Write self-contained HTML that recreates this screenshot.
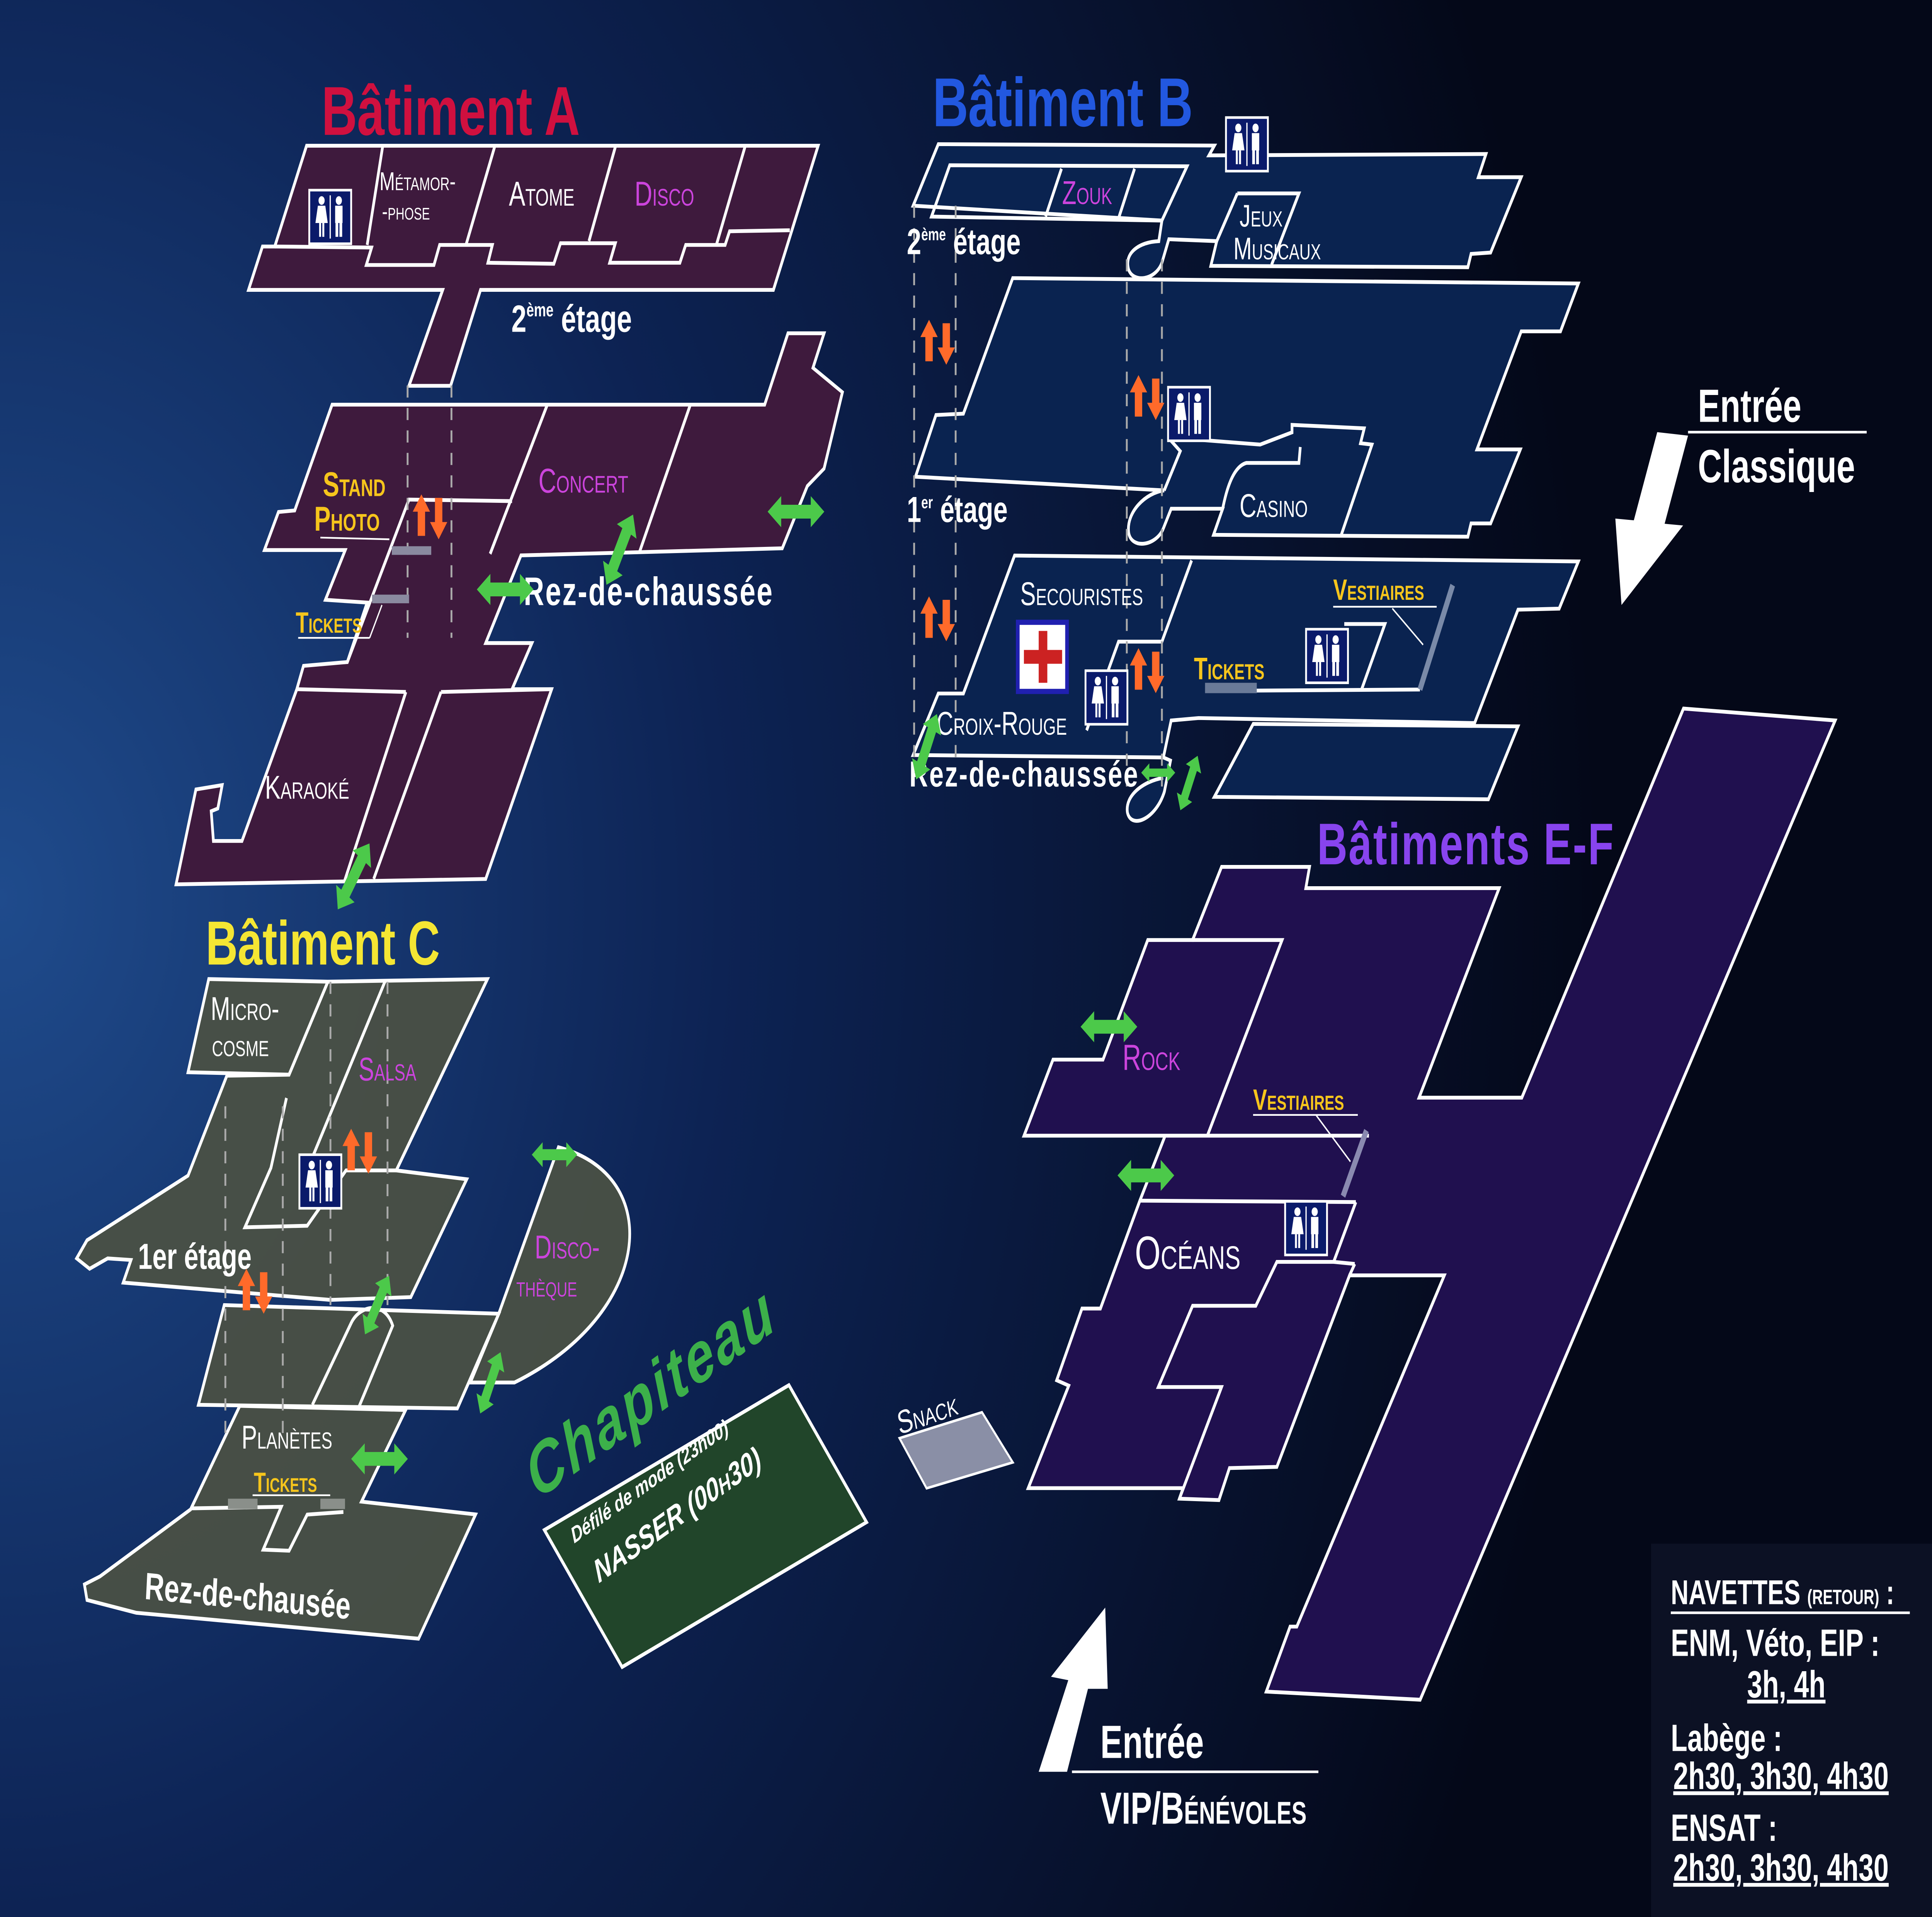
<!DOCTYPE html>
<html><head><meta charset="utf-8"><style>
html,body{margin:0;padding:0;background:#050a1f;width:100%;height:100%;overflow:hidden;}
svg.main{display:block;position:fixed;left:0;top:0;width:100vw;height:100vh;}
text{font-family:"Liberation Sans","DejaVu Sans",sans-serif;}
.w{fill:#fff}
.sc{font-variant:small-caps}
</style></head><body>
<svg class="main" viewBox="0 0 1568 1109" preserveAspectRatio="none" xmlns="http://www.w3.org/2000/svg">
<defs>
<radialGradient id="bg" cx="0" cy="520" r="1300" gradientUnits="userSpaceOnUse">
<stop offset="0" stop-color="#1f4b8c"/><stop offset="0.45" stop-color="#0d2354"/><stop offset="1" stop-color="#040818"/>
</radialGradient>
<g id="gar"><polygon points="-23,0 -12,-9 -12,-4 12,-4 12,-9 23,0 12,9 12,4 -12,4 -12,9" fill="#4cc94a"/></g>
<g id="oar"><polygon points="-11,-13 -4,-3 -8,-3 -8,11 -14,11 -14,-3 -18,-3" fill="#ff6a2a" transform="translate(5,0)"/><polygon points="6,13 -1,3 3,3 3,-11 9,-11 9,3 13,3" fill="#ff6a2a" transform="translate(2,0)"/></g>
<g id="wc"><rect x="0" y="0" width="34" height="31" fill="#0a1a6a" stroke="#fff" stroke-width="1.5"/>
<circle cx="10" cy="6" r="2.5" fill="#fff"/><polygon points="7,9 13,9 15,19 5,19" fill="#fff"/><rect x="8" y="19" width="1.6" height="8" fill="#fff"/><rect x="10.6" y="19" width="1.6" height="8" fill="#fff"/>
<line x1="17" y1="3" x2="17" y2="28" stroke="#fff" stroke-width="1"/>
<circle cx="24" cy="6" r="2.5" fill="#fff"/><rect x="21" y="9" width="6" height="10" fill="#fff"/><rect x="21.3" y="18" width="2.2" height="9" fill="#fff"/><rect x="24.5" y="18" width="2.2" height="9" fill="#fff"/></g>
</defs>
<rect width="1568" height="1109" fill="url(#bg)"/>

<!-- ===== Bâtiment A ===== -->
<g stroke="#fff" stroke-width="2.2" stroke-linejoin="miter" fill="#3e1a3d">
<polygon points="248.8,84.3 664,84.3 627.7,167.7 390,167.7 365.7,223.2 331.9,223.2 359.3,167.7 201.7,167.7 213,142.6 223,142.6"/>
<polygon points="269.5,234.1 620.6,234.1 639.5,192.8 668.8,192.8 659.8,212.8 683.7,226.9 668.8,271.1 655.2,281.2 634.9,317.2 422.8,321.3 394.2,372 431.7,372 415.6,398.7 447.7,398.7 394.2,508.5 142.9,511.6 159,456.7 180.3,454.2 176.8,467.7 171.4,469.3 173.2,486.5 196.4,486.5 240.9,398.7 246.3,385.2 281.9,383 298,348.6 264.1,347 280.2,318.2 214.6,318.2 226,296.2 239.2,295.3"/>
</g>
<g stroke="#fff" stroke-width="2.2" fill="none">
<polyline points="223,142.6 301.6,143.2 297.3,153.3 352.2,153.3 356.8,141.7 399.6,141.7 396,152 449.5,152.6 454.9,140.7 499.4,140.7 494.8,152 551.8,152 556.5,141.7 588.5,141.7 592.1,133.8 641,133.2"/>
<line x1="310.5" y1="85" x2="298" y2="141.7"/><line x1="401.4" y1="85" x2="378.2" y2="141.7"/><line x1="499.4" y1="85" x2="478" y2="139.5"/><line x1="604.6" y1="85" x2="581.4" y2="141.7"/>
<line x1="444.2" y1="234.1" x2="397.8" y2="320.4"/><line x1="560" y1="234.7" x2="519" y2="319.4"/>
<polyline points="281.9,383 331.9,289 415.6,289.9"/>
<line x1="240.9" y1="398.7" x2="329.4" y2="400.3"/><line x1="329.4" y1="400.3" x2="279.5" y2="510"/>
<line x1="357.9" y1="400.3" x2="303.3" y2="508.5"/><line x1="357.9" y1="400.3" x2="447.7" y2="398.7"/>
</g>
<g stroke="#aaa" stroke-width="1.5" stroke-dasharray="7,6"><line x1="330.8" y1="223" x2="330.8" y2="369"/><line x1="366.4" y1="223" x2="366.4" y2="369"/></g>
<rect x="318" y="316" width="32" height="5" fill="#8a8aa0"/><rect x="302" y="344" width="30" height="5" fill="#8a8aa0"/>
<line x1="260" y1="311" x2="316" y2="312" stroke="#fff" stroke-width="1"/><line x1="242" y1="369" x2="300" y2="369" stroke="#fff" stroke-width="1"/><line x1="300" y1="369" x2="310" y2="350" stroke="#fff" stroke-width="1"/>
<text x="261" y="78" font-size="40" font-weight="bold" fill="#d0103f">Bâtiment A</text>
<text x="308" y="110" font-size="15" class="w sc">Métamor-</text><text x="310" y="127" font-size="14" class="w sc">-phose</text>
<text x="413" y="119" font-size="20" class="w sc">Atome</text>
<text x="515" y="119" font-size="20" fill="#cc44dd" class="sc">Disco</text>
<text x="415" y="192" font-size="22" font-weight="bold" class="w">2<tspan font-size="11" dy="-9">ème</tspan><tspan dy="9"> étage</tspan></text>
<text x="262" y="287" font-size="20" font-weight="bold" fill="#f6c51c" class="sc">Stand</text>
<text x="255" y="307" font-size="20" font-weight="bold" fill="#f6c51c" class="sc">Photo</text>
<text x="437" y="285" font-size="20" fill="#cc44dd" class="sc">Concert</text>
<text x="425" y="350" font-size="23" font-weight="bold" class="w" letter-spacing="1">Rez-de-chaussée</text>
<text x="240" y="366" font-size="17" font-weight="bold" fill="#f6c51c" class="sc">Tickets</text>
<text x="215" y="462" font-size="19" class="w sc">Karaoké</text>
<use href="#wc" x="251" y="110"/>
<use href="#oar" x="348" y="299"/>
<use href="#gar" transform="translate(646,296)"/>
<use href="#gar" transform="translate(410,341)"/>
<use href="#gar" transform="translate(503,318) rotate(-62)"/>
<use href="#gar" transform="translate(287,507) rotate(-56)"/>

<!-- ===== Bâtiment B ===== -->
<g stroke="#fff" stroke-width="2.2" fill="#0a2350">
<path d="M761.5,83.4 L985.6,84.2 L981.2,89.9 L1206,89.1 L1199.8,102.5 L1234.6,102.5 L1209.8,146.1 L1193.9,146.9 L1191.3,154.6 L982.7,153.8 L987.5,139.5 L948.6,138.4 L943,152 C938,162 920,164 916,156 C912,146 925,140 940.5,139.5 L943,127.6 L741.1,119 Z"/>
<path d="M821.9,160.9 L1281,164 L1266.5,191.7 L1234.6,191.7 L1198.7,260 L1233.9,260 L1209.8,302.8 L1193.9,302.8 L1191.3,310.5 L984.9,309.4 L992.3,294.3 L950.5,294.3 L944,306 C938,316 918,318 916,308 C914,296 930,285 944.9,283.7 L743,275.8 L759.6,240.1 L781.9,239.3 Z"/>
<path d="M823.4,321.4 L1281,324.8 L1265.4,352.1 L1232,352.7 L1196.8,418.3 L972.7,415.4 L950.5,416.8 L944.2,438.2 L741.1,436.8 L761.5,401.2 L781.9,401.2 Z"/>
<polygon points="1017.1,418.8 1232,420.2 1208,462.4 985.6,461"/>
<path d="M944.2,438.2 L950,440 L945,458 C938,474 918,480 915,470 C913,460 928,452 944,450"/>
</g>
<g stroke="#fff" stroke-width="2.2" fill="none">
<polygon points="770.8,95.6 963.4,96.2 943,127.6 756,125.3"/>
<line x1="861.5" y1="97.6" x2="848.6" y2="125.3"/><line x1="920.8" y1="97.6" x2="907.9" y2="126.1"/>
<polyline points="1004.2,111.9 1054.2,111.9 1032,153.2"/><line x1="1004.2" y1="111.9" x2="987.5" y2="139.5"/>
<path d="M947.9,253 L1022.7,257.2 L1048.6,250.1 L1048.6,245.8 L1107.2,247.8 L1104.2,256.4 L1113.5,257.2 L1088.6,309.4"/>
<path d="M1055.3,258.6 L1054.2,267.8 L1011.6,267.8 C1000,270 995,285 992.3,294.3"/>
<polyline points="947.9,253 957.9,261 944.9,283.7"/>
<polyline points="967.1,324.2 943,371.2 907.8,371.2 881.9,422.5"/>
<line x1="978.2" y1="399.7" x2="1152.4" y2="398.9"/>
<polyline points="1091,361 1124,361 1105,399"/>
</g>
<line x1="1152.4" y1="398.9" x2="1179" y2="338.5" stroke="#7a8aa8" stroke-width="4"/>
<line x1="1130" y1="352" x2="1155" y2="373" stroke="#fff" stroke-width="1"/>
<line x1="1082" y1="351" x2="1166" y2="351" stroke="#fff" stroke-width="1"/>
<rect x="978" y="395" width="42" height="6" fill="#6a7a98"/>
<g stroke="#aaa" stroke-width="1.5" stroke-dasharray="7,6"><line x1="741.9" y1="119" x2="741.9" y2="438"/><line x1="775.6" y1="119" x2="775.6" y2="438"/><line x1="914.5" y1="150" x2="914.5" y2="455"/><line x1="943" y1="150" x2="943" y2="455"/></g>
<text x="757" y="73" font-size="40" font-weight="bold" fill="#2258e0">Bâtiment B</text>
<text x="862" y="118" font-size="19" fill="#cc44dd" class="sc">Zouk</text>
<text x="736" y="147" font-size="21" font-weight="bold" class="w">2<tspan font-size="10" dy="-8">ème</tspan><tspan dy="8"> étage</tspan></text>
<text x="1006" y="131" font-size="18" class="w sc">Jeux</text><text x="1001" y="150" font-size="18" class="w sc">Musicaux</text>
<text x="736" y="302" font-size="21" font-weight="bold" class="w">1<tspan font-size="10" dy="-8">er</tspan><tspan dy="8"> étage</tspan></text>
<text x="1006" y="299" font-size="19" class="w sc">Casino</text>
<text x="828" y="350" font-size="19" class="w sc">Secouristes</text>
<text x="760" y="425" font-size="19" class="w sc">Croix-Rouge</text>
<text x="969" y="393" font-size="18" font-weight="bold" fill="#f6c51c" class="sc">Tickets</text>
<text x="1082" y="347" font-size="17" font-weight="bold" fill="#f6c51c" class="sc">Vestiaires</text>
<text x="738" y="455" font-size="21" font-weight="bold" class="w" letter-spacing="1">Rez-de-chaussée</text>
<rect x="826" y="360" width="40" height="40" fill="#fff" stroke="#2020b0" stroke-width="3"/>
<rect x="843" y="365" width="7" height="30" fill="#cc2222"/><rect x="831" y="376" width="31" height="8" fill="#cc2222"/>
<use href="#wc" x="995" y="68"/><use href="#wc" x="948" y="224"/><use href="#wc" x="881" y="388"/><use href="#wc" x="1060" y="364"/>
<use href="#oar" x="760" y="198"/><use href="#oar" x="760" y="358"/><use href="#oar" x="930" y="230"/><use href="#oar" x="930" y="388"/>
<use href="#gar" transform="translate(752,432) rotate(-66) scale(0.9)"/>
<use href="#gar" transform="translate(940,447) scale(0.6)"/>
<use href="#gar" transform="translate(965,453) rotate(-66) scale(0.75)"/>

<!-- ===== Bâtiment C ===== -->
<g stroke="#fff" stroke-width="2.2" fill="#4a5044" fill-opacity="0.95">
<polygon points="184.1,622.3 152.6,680.1 70.6,717.5 62.2,728 72.7,734 87.4,728 106.3,728.9 100,742 268.2,752 333.4,750.4 378.8,682.2 321.6,677.1 395.6,566.4 266.1,567.9 234.6,621.7"/>
<polygon points="169.4,566.4 266.1,567.9 234.6,621.7 152.6,620.3"/>
<path d="M404.8,760 L453.2,663.7 C540,680 530,760 417.5,799.8 L381.7,799.8 Z"/>
<polygon points="182,755 404.8,760 371.2,814.8 161,812.7"/>
<polygon points="194.6,813.3 329.2,815.7 293.4,868.7 386,876.1 339.7,948 110.6,933 70.6,925.6 68.5,916.6 81.1,912 154.7,873.2"/>
</g>
<g stroke="#fff" stroke-width="2.2" fill="none">
<polyline points="232.5,635.2 219.9,675.6 198.8,710 249.3,709.1 280.8,677.1 321.6,677.1"/>
<line x1="312.4" y1="567.9" x2="253.5" y2="669.6"/>
<path d="M253.5,812.7 L285,765.4 C292,755 312,752 318.7,766.9 L291.3,813.9"/>
<polyline points="154.7,872.6 228.3,871.7 213.6,896.5 234.6,897.1 249.3,876.2 278.7,874.7"/>
</g>
<rect x="185" y="867" width="24" height="6" fill="#8a8f8a"/><rect x="260" y="867" width="20" height="6" fill="#8a8f8a"/>
<g stroke="#aaa" stroke-width="1.5" stroke-dasharray="7,6"><line x1="182.9" y1="640" x2="182.9" y2="831"/><line x1="229.5" y1="640" x2="229.5" y2="831"/><line x1="268.2" y1="568" x2="268.2" y2="755"/><line x1="314.5" y1="568" x2="314.5" y2="755"/></g>
<text x="167" y="558" font-size="36" font-weight="bold" fill="#f5e633">Bâtiment C</text>
<text x="171" y="590" font-size="19" class="w sc">Micro-</text><text x="172" y="611" font-size="18" class="w sc">cosme</text>
<text x="291" y="625" font-size="19" fill="#cc44dd" class="sc">Salsa</text>
<text x="112" y="734" font-size="21" font-weight="bold" class="w">1er étage</text>
<text x="434" y="728" font-size="19" fill="#cc44dd" class="sc">Disco-</text><text x="419" y="750" font-size="17" fill="#cc44dd" class="sc">thèque</text>
<text x="196" y="838" font-size="19" class="w sc">Planètes</text>
<text x="206" y="863" font-size="16" font-weight="bold" fill="#f6c51c" class="sc">Tickets</text>
<line x1="205" y1="865" x2="268" y2="865" stroke="#fff" stroke-width="1"/>
<text x="117" y="925" font-size="22" font-weight="bold" class="w" transform="rotate(4 117 925)">Rez-de-chausée</text>
<use href="#wc" x="243" y="668"/>
<use href="#oar" x="291" y="666"/><use href="#oar" x="206" y="747"/>
<use href="#gar" transform="translate(450,668) scale(0.8)"/>
<use href="#gar" transform="translate(306,755) rotate(-60) scale(0.85)"/>
<use href="#gar" transform="translate(398,800) rotate(-65) scale(0.85)"/>
<use href="#gar" transform="translate(308,844)"/>

<!-- Chapiteau -->
<polygon points="441.8,885.1 640.3,801.3 703.3,880.6 504.9,964.4" fill="#21452a" stroke="#fff" stroke-width="2.2"/>
<text x="436" y="868" font-size="42" font-weight="bold" font-style="italic" fill="#3cb04a" transform="rotate(-27 436 868)" letter-spacing="2">Chapiteau</text>
<text x="466" y="893" font-size="13" font-style="italic" font-weight="bold" class="w" transform="rotate(-27 466 893)">Défilé de mode (23h00)</text>
<text x="486" y="916" font-size="19" font-style="italic" font-weight="bold" class="w" transform="rotate(-27 486 916)">NASSER (00<tspan font-size="14">H</tspan>30)</text>

<!-- Snack -->
<polygon points="730,832 797,817 822,846 752,861" fill="#8a8fa6" stroke="#fff" stroke-width="1.5"/>
<text x="730" y="830" font-size="19" class="w sc" transform="rotate(-14 730 830)">Snack</text>

<!-- ===== Bâtiments E-F ===== -->
<g stroke="#fff" stroke-width="2.2" fill="#20104f">
<polygon points="1366.3,409.9 1489.4,416.8 1152.6,983.3 1027.7,978.6 1047,941 1052.5,941 1172.2,737.8 1095.3,737.8 1036.3,848.6 997.8,849.3 989.3,867.8 957.2,867 960.2,860.9 834.5,860.9 867.4,801.6 857.6,798.5 878.1,757 893.1,757 925.1,694.6 945.6,657 831.1,657 854.6,613 895.2,613 931.5,543.8 967.9,543.8 991.4,501.5 1062.8,501.5 1059.8,513.8 1216.7,513.8 1151.7,635 1235.1,635"/>
</g>
<g stroke="#fff" stroke-width="2.2" fill="none">
<polyline points="967.9,543.8 1040.5,543.8 979.9,657"/>
<line x1="945.6" y1="657" x2="1111" y2="657"/>
<line x1="925.1" y1="694.6" x2="1100.4" y2="695.4"/>
<polyline points="1100.4,695.4 1082.4,730 1036.3,730 1019.2,755.4 967.9,755.4 940.1,802.4 991.4,802.4 957.2,867"/>
<line x1="1082.4" y1="730" x2="1099.5" y2="731.2"/><line x1="1099.5" y1="731.2" x2="1095.3" y2="737.8"/>
</g>
<line x1="1109" y1="654" x2="1090" y2="692" stroke="#8a8ab0" stroke-width="4"/>
<line x1="1017" y1="645" x2="1102" y2="645" stroke="#fff" stroke-width="1"/><line x1="1068" y1="645" x2="1096" y2="672" stroke="#fff" stroke-width="1"/>
<text x="1069" y="500" font-size="34" font-weight="bold" fill="#8844ee" letter-spacing="1">Bâtiments E-F</text>
<text x="911" y="619" font-size="21" fill="#cc44dd" class="sc">Rock</text>
<text x="1017" y="642" font-size="17" font-weight="bold" fill="#f6c51c" class="sc">Vestiaires</text>
<text x="921" y="734" font-size="27" class="w sc">Océans</text>
<use href="#wc" x="1043" y="695"/>
<use href="#gar" transform="translate(900,594)"/>
<use href="#gar" transform="translate(930,680)"/>

<!-- Entrées -->
<polygon points="1345,250 1370,252 1351,303 1366,304 1316,350 1311,300 1326,301" fill="#fff"/>
<text x="1378" y="244" font-size="27" font-weight="bold" class="w">Entrée</text>
<line x1="1370" y1="250" x2="1515" y2="250" stroke="#fff" stroke-width="1.5"/>
<text x="1378" y="279" font-size="27" font-weight="bold" class="w">Classique</text>
<polygon points="843,1025 866,1025 883,977 899,977 897,930 853,970 867,972" fill="#fff"/>
<text x="893" y="1017" font-size="27" font-weight="bold" class="w">Entrée</text>
<line x1="870" y1="1025" x2="1070" y2="1025" stroke="#fff" stroke-width="1.5"/>
<text x="893" y="1055" font-size="26" font-weight="bold" class="w">VIP/<tspan class="sc">Bénévoles</tspan></text>

<!-- Navettes -->
<rect x="1340" y="893" width="228" height="216" fill="#0c1124"/>
<text x="1356" y="928" font-size="20" font-weight="bold" class="w">NAVETTES <tspan font-size="12">(RETOUR)</tspan> :</text>
<line x1="1356" y1="933" x2="1550" y2="933" stroke="#fff" stroke-width="1.5"/>
<text x="1356" y="958" font-size="22" font-weight="bold" class="w">ENM, Véto, EIP :</text>
<text x="1418" y="982" font-size="22" font-weight="bold" class="w" text-decoration="underline">3h, 4h</text>
<text x="1356" y="1013" font-size="22" font-weight="bold" class="w">Labège :</text>
<text x="1358" y="1035" font-size="22" font-weight="bold" class="w" text-decoration="underline">2h30, 3h30, 4h30</text>
<text x="1356" y="1065" font-size="22" font-weight="bold" class="w">ENSAT :</text>
<text x="1358" y="1088" font-size="22" font-weight="bold" class="w" text-decoration="underline">2h30, 3h30, 4h30</text>
</svg>
</body></html>
